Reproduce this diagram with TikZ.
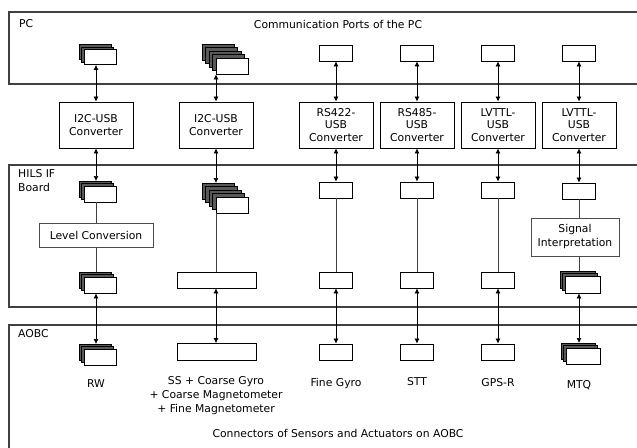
\documentclass[tikz,border=0pt]{standalone}
\usepackage{fontspec}
\setmainfont{DejaVu Sans}
\usetikzlibrary{arrows.meta}
\tikzset{
  panel/.style={draw=black!75, line width=1.1pt},
  port/.style={draw=black, fill=white, line width=0.8pt, inner sep=0pt},
  layer/.style={draw=black, fill=black!65, line width=0.6pt},
  conv/.style={draw=black, line width=0.9pt, minimum width=74pt, minimum height=46pt, align=center, inner sep=1pt, font=\fontsize{10.8}{12.8}\selectfont},
  proc/.style={draw=black!70, line width=0.7pt, fill=white, align=center, inner sep=1pt, font=\fontsize{10.8}{14}\selectfont},
  link/.style={{Latex[length=5pt,width=5pt]}-{Latex[length=5pt,width=5pt]}, line width=0.7pt},
  wire/.style={draw=black!75, line width=0.7pt},
  lbl/.style={align=center, inner sep=0pt, font=\fontsize{10.8}{14}\selectfont}
}
% name, x, y, w, h, layers, offset
\newcommand\stackport[7]{%
  \foreach \k in {#6,...,1}{%
    \draw[layer] ({#2-\k*#7-#4/2},{#3-\k*#7-#5/2}) rectangle ++(#4,#5);
  }
  \node[port, minimum width=#4pt, minimum height=#5pt] (#1) at (#2,#3) {};
  \coordinate (#1-top) at ({#2-#6*#7},{#3-#6*#7-#5/2});
}
\begin{document}
\begin{tikzpicture}[x=1pt,y=-1pt]
\useasboundingbox (0,0) rectangle (637,447);
\clip (0,0) rectangle (637,447);
% panels
\draw[panel] (9,12) rectangle (700,84);
\draw[panel] (9,165) rectangle (700,307);
\draw[panel] (9,325) rectangle (700,520);
% panel titles
\node[lbl, anchor=west] (pcT) at (19,24) {PC};
\node[lbl] (pcC) at (338,24) {Communication Ports of the PC};
\node[lbl, anchor=north west, align=left] (hilsT) at (18,169) {HILS IF\\Board};
\node[lbl, anchor=west] (aobcT) at (18,334) {AOBC};
\node[lbl] (aobcC) at (338,433) {Connectors of Sensors and Actuators on AOBC};
% PC ports
\stackport{p1}{100}{57}{32}{15}{2}{2.5}
\stackport{p2}{232}{66}{32}{16}{4}{3.5}
\node[port, minimum width=33pt, minimum height=16pt] (p3) at (336,53) {};
\node[port, minimum width=33pt, minimum height=16pt] (p4) at (417,53) {};
\node[port, minimum width=33pt, minimum height=16pt] (p5) at (498,53) {};
\node[port, minimum width=33pt, minimum height=16pt] (p6) at (579,53) {};
% converters
\node[conv] (c1) at (96,125) {I2C-USB\\Converter};
\node[conv] (c2) at (216,125) {I2C-USB\\Converter};
\node[conv] (c3) at (336,125) {RS422-\\USB\\Converter};
\node[conv] (c4) at (417,125) {RS485-\\USB\\Converter};
\node[conv] (c5) at (498,125) {LVTTL-\\USB\\Converter};
\node[conv] (c6) at (579,125) {LVTTL-\\USB\\Converter};
% HILS top ports
\stackport{h1}{100}{194}{32}{16}{2}{2.5}
\stackport{h2}{232}{205}{32}{16}{4}{3.5}
\node[port, minimum width=33pt, minimum height=16pt] (h3) at (336,190) {};
\node[port, minimum width=33pt, minimum height=16pt] (h4) at (417,190) {};
\node[port, minimum width=33pt, minimum height=16pt] (h5) at (498,190) {};
\node[port, minimum width=33pt, minimum height=16pt] (h6) at (579,191) {};
% processing
\node[proc, minimum width=114pt, minimum height=24pt] (lev) at (96,235) {Level Conversion};
\node[proc, minimum width=88pt, minimum height=38pt] (sig) at (575,237) {Signal\\Interpretation};
% HILS bottom ports
\stackport{b1}{100}{285}{32}{16}{2}{2.5}
\node[port, minimum width=79pt, minimum height=16pt] (b2) at (216.5,280) {};
\node[port, minimum width=33pt, minimum height=16pt] (b3) at (336,280) {};
\node[port, minimum width=33pt, minimum height=16pt] (b4) at (417,280) {};
\node[port, minimum width=33pt, minimum height=16pt] (b5) at (498,280) {};
\stackport{b6}{582.5}{284.5}{35}{17}{2}{2.5}
% AOBC ports
\stackport{a1}{100}{357}{32}{16}{2}{2.5}
\node[port, minimum width=79pt, minimum height=17pt] (a2) at (216.5,352) {};
\node[port, minimum width=33pt, minimum height=16pt] (a3) at (336,352) {};
\node[port, minimum width=33pt, minimum height=16pt] (a4) at (417,352) {};
\node[port, minimum width=33pt, minimum height=16pt] (a5) at (498,352) {};
\stackport{a6}{583}{356}{34}{16}{2}{2.5}
% labels
\node[lbl] (lRW) at (96,384) {RW};
\node[lbl] (lSS) at (216,396) {SS + Coarse Gyro\\+ Coarse Magnetometer\\+ Fine Magnetometer};
\node[lbl] (lFG) at (336,384) {Fine Gyro};
\node[lbl] (lSTT) at (417,382) {STT};
\node[lbl] (lGPS) at (498,383) {GPS-R};
\node[lbl] (lMTQ) at (579,385) {MTQ};
% PC ports <-> converters
\draw[link] (c1.north) -- (c1.north |- p1.south);
\draw[link] (c2.north) -- (c2.north |- p2.south);
\foreach \i in {3,4,5,6} \draw[link] (c\i.north) -- (p\i.south);
% converters <-> HILS ports
\draw[link] (c1.south) -- (c1.south |- h1-top);
\draw[link] (c2.south) -- (c2.south |- h2-top);
\foreach \i in {3,4,5,6} \draw[link] (c\i.south) -- (h\i.north);
% internal wires
\draw[wire] (c1.south |- h1.south) -- (c1.south |- lev.north);
\draw[wire] (c1.south |- lev.south) -- (c1.south |- b1-top);
\draw[wire] (c2.south |- h2.south) -- (c2.south |- b2.north);
\foreach \i in {3,4,5} \draw[wire] (h\i.south) -- (b\i.north);
\draw[wire] (h6.south) -- (h6.south |- sig.north);
\draw[wire] (h6.south |- sig.south) -- (h6.south |- b6-top);
% HILS <-> AOBC
\draw[link] (c1.south |- b1.south) -- (c1.south |- a1-top);
\draw[link] (c2.south |- b2.south) -- (c2.south |- a2.north);
\foreach \i in {3,4,5} \draw[link] (b\i.south) -- (a\i.north);
\draw[link] (c6.south |- b6.south) -- (c6.south |- a6-top);
\end{tikzpicture}
\end{document}
